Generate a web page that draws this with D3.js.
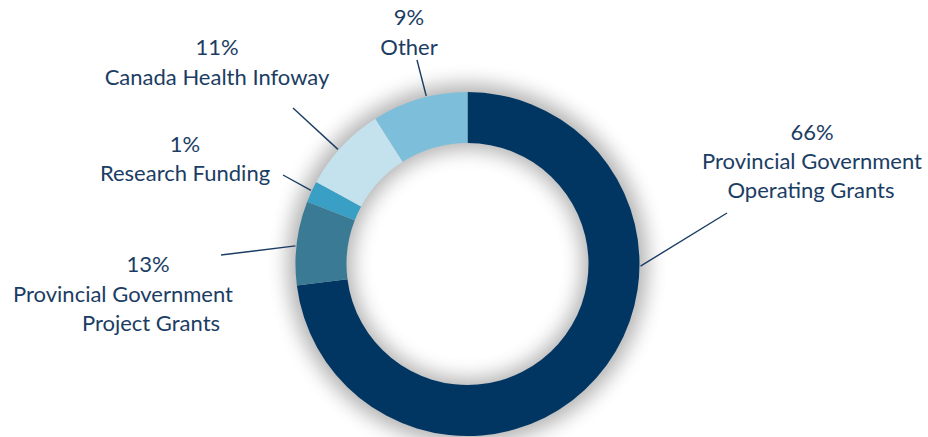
<!DOCTYPE html>
<html>
<head>
<meta charset="utf-8">
<script src="https://cdn.jsdelivr.net/npm/d3@7"></script>
<style>
  html, body { margin: 0; padding: 0; background: #fff; }
  svg { display: block; }
</style>
</head>
<body>
<div id="chart"></div>
<script>
(function(){

  var categories = ["Provincial Government Operating Grants",
    "Provincial Government Project Grants",
    "Research Funding",
    "Canada Health Infoway",
    "Other"];
  var shares = [73, 7.9, 2, 8.1, 9];
  // percentages printed in the labels
  var pctLabels = ["66%", "13%", "1%", "11%", "9%"];
  // label text lines (after the percentage)
  var labelLines = [
    ["Provincial Government", "Operating Grants"],
    ["Provincial Government", "Project Grants"],
    ["Research Funding"],
    ["Canada Health Infoway"],
    ["Other"]
  ];

  var colors = ["#023662", "#3a7a94", "#3a9fc4", "#c4e2ee", "#7dbfdb"];
  var textColor = "#1b3d63";

  var width = 928, height = 437;
  var cx = 467.5, cy = 264, outerR = 172, innerR = 121;

  // label layout: x per line, baseline of first line, line step, leader start and ring angle (deg)
  var labelLayout = [
    {xs: [812, 812, 811], y: 140, step: 29, from: [727, 213], angle: 90.7},
    {xs: [148, 123, 151], y: 272, step: 29.5, from: [221, 255], angle: 276},
    {xs: [185, 185], y: 152, step: 29, from: [283, 175], angle: 295.2},
    {xs: [217, 217], y: 55, step: 30, from: [293, 108], angle: 311.5},
    {xs: [409, 409], y: 25, step: 30, from: [417, 60], angle: 346.2}
  ];

  var svg = d3.select("#chart")
    .append("svg")
    .attr("width", width)
    .attr("height", height);

  var defs = svg.append("defs");
  defs.append("filter")
    .attr("id", "glow")
    .attr("x", "-30%").attr("y", "-30%")
    .attr("width", "160%").attr("height", "160%")
    .append("feGaussianBlur")
    .attr("stdDeviation", 10);

  var g = svg.append("g")
    .attr("transform", "translate(" + cx + "," + cy + ")");

  var pie = d3.pie().sort(null).value(function(d){ return d; });
  var arcs = pie(shares);

  var arc = d3.arc().innerRadius(innerR).outerRadius(outerR);

  // soft grey halo behind the ring
  g.append("path")
    .attr("d", d3.arc().innerRadius(innerR - 6).outerRadius(outerR + 8)
      .startAngle(0).endAngle(2 * Math.PI)())
    .attr("fill", "#000")
    .attr("opacity", 0.3)
    .attr("filter", "url(#glow)");

  g.selectAll(".slice")
    .data(arcs)
    .enter()
    .append("path")
    .attr("class", "slice")
    .attr("d", arc)
    .attr("fill", function(d, i){ return colors[i]; });

  // leader lines
  svg.selectAll(".leader")
    .data(labelLayout)
    .enter()
    .append("line")
    .attr("class", "leader")
    .attr("x1", function(d){ return d.from[0]; })
    .attr("y1", function(d){ return d.from[1]; })
    .attr("x2", function(d){ return cx + d3.pointRadial(d.angle * Math.PI / 180, outerR + 1)[0]; })
    .attr("y2", function(d){ return cy + d3.pointRadial(d.angle * Math.PI / 180, outerR + 1)[1]; })
    .attr("stroke", "#1b3d63")
    .attr("stroke-width", 1.4);

  // labels
  categories.forEach(function(cat, i){
    var lay = labelLayout[i];
    var lines = [pctLabels[i]].concat(labelLines[i]);
    var t = svg.append("text")
      .attr("class", "label")
      .attr("text-anchor", "middle")
      .attr("fill", textColor)
      .style("font-family", "Lato, 'Open Sans', sans-serif")
      .style("font-size", "22px");
    lines.forEach(function(line, j){
      t.append("tspan")
        .attr("x", lay.xs[j])
        .attr("y", lay.y + j * lay.step)
        .text(line);
    });
  });

})();
</script>
</body>
</html>
